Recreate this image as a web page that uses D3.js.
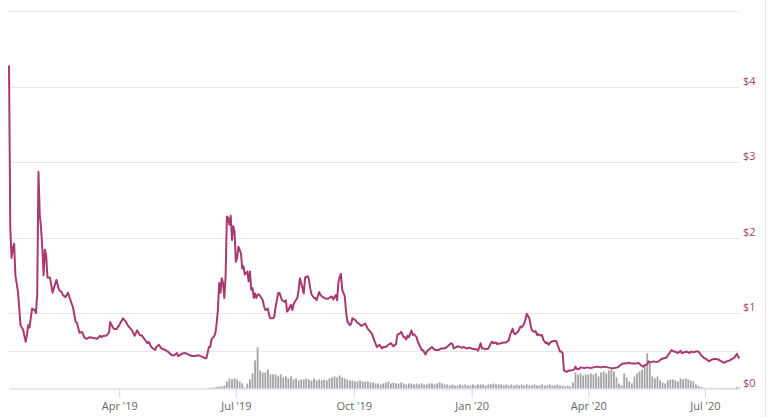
<!DOCTYPE html>
<html>
<head>
<meta charset="utf-8">
<script src="https://cdn.jsdelivr.net/npm/d3@7"></script>
<style>
  body { margin: 0; background: #fff; }
  #chart { width: 769px; height: 417px; }
  text { font-family: "Open Sans", "DejaVu Sans", sans-serif; }
</style>
</head>
<body>
<div id="chart"></div>
<script>
// day offsets counted from the first data day (5 Jan 2019)
const startDate = new Date(2019, 0, 5);

const priceDays = [
	0, 1, 2, 3, 4, 5, 7, 9, 11, 13, 14, 15, 16, 18, 20, 21, 22, 23, 24, 25, 26, 27, 28, 29, 30, 32, 34, 35, 37, 39,
	41, 42, 44, 46, 48, 50, 52, 53, 55, 57, 59, 61, 63, 66, 69, 71, 72, 74, 76, 78, 79, 81, 82, 84, 86, 87, 89, 91, 93, 96,
	98, 100, 102, 104, 105, 108, 109, 111, 114, 115, 117, 119, 122, 124, 127, 129, 131, 132, 135, 137, 139, 141, 143, 145, 148, 151, 153, 154, 156, 157,
	158, 160, 161, 162, 163, 164, 165, 166, 167, 168, 169, 170, 171, 172, 173, 174, 175, 176, 177, 178, 179, 181, 182, 183, 184, 186, 187, 188, 189, 190,
	191, 192, 193, 194, 195, 197, 198, 199, 200, 202, 203, 204, 206, 207, 208, 210, 211, 212, 213, 215, 216, 217, 218, 220, 221, 222, 223, 225, 226, 227,
	229, 230, 231, 233, 234, 235, 236, 238, 239, 240, 242, 243, 245, 247, 249, 252, 253, 255, 256, 257, 258, 259, 260, 262, 263, 264, 266, 267, 268, 270,
	272, 273, 275, 278, 280, 281, 283, 285, 287, 289, 291, 292, 294, 296, 298, 300, 302, 303, 305, 306, 308, 309, 310, 311, 312, 314, 315, 316, 318, 319,
	321, 322, 323, 325, 326, 327, 328, 330, 331, 333, 335, 337, 339, 341, 343, 345, 346, 347, 349, 351, 353, 355, 357, 359, 361, 363, 365, 366, 368, 369,
	371, 372, 374, 376, 377, 378, 380, 381, 384, 386, 388, 390, 391, 393, 394, 395, 397, 398, 399, 400, 402, 403, 404, 406, 407, 408, 410, 411, 412, 413,
	415, 416, 417, 419, 420, 421, 423, 425, 427, 428, 430, 431, 432, 433, 435, 437, 439, 441, 442, 443, 445, 446, 449, 451, 454, 456, 459, 462, 464, 467,
	470, 472, 475, 477, 479, 481, 484, 486, 489, 491, 493, 495, 496, 498, 499, 501, 503, 505, 507, 509, 511, 513, 515, 517, 519, 521, 522, 524, 525, 527,
	529, 531, 532, 534, 536, 538, 539, 540, 542, 544, 546, 548, 550, 552, 554, 556, 558, 560, 562, 564, 566, 568, 569, 570
];

const priceValues = [
	4.28, 2.13, 1.73, 1.86, 1.92, 1.50, 1.28, 0.84, 0.78, 0.62, 0.71, 0.84, 0.81, 1.06, 1.04, 1.00, 1.24, 2.87, 2.30, 2.13, 1.86, 1.50, 1.84, 1.77, 1.47, 1.47, 1.27, 1.33, 1.44, 1.31,
	1.28, 1.24, 1.21, 1.27, 1.17, 1.07, 0.88, 0.87, 0.74, 0.75, 0.67, 0.66, 0.68, 0.67, 0.66, 0.70, 0.68, 0.70, 0.70, 0.74, 0.88, 0.81, 0.79, 0.79, 0.84, 0.87, 0.93, 0.89, 0.83, 0.77,
	0.70, 0.77, 0.71, 0.70, 0.67, 0.60, 0.62, 0.55, 0.51, 0.55, 0.58, 0.53, 0.51, 0.49, 0.44, 0.44, 0.47, 0.43, 0.46, 0.47, 0.46, 0.44, 0.43, 0.43, 0.44, 0.42, 0.40, 0.40, 0.55, 0.55,
	0.65, 0.69, 0.73, 0.86, 1.04, 1.40, 1.27, 1.46, 1.40, 1.20, 1.48, 2.28, 2.26, 2.17, 2.29, 1.97, 2.15, 2.08, 1.68, 1.73, 1.88, 1.79, 1.59, 1.62, 1.51, 1.55, 1.42, 1.55, 1.31, 1.33,
	1.20, 1.26, 1.20, 1.24, 1.25, 1.20, 1.17, 1.09, 1.04, 1.06, 0.97, 0.93, 0.93, 0.95, 1.08, 1.26, 1.27, 1.22, 1.17, 1.15, 1.17, 1.02, 1.04, 1.11, 1.04, 1.11, 1.15, 1.20, 1.31, 1.46,
	1.33, 1.26, 1.47, 1.49, 1.45, 1.33, 1.25, 1.20, 1.20, 1.17, 1.28, 1.24, 1.21, 1.19, 1.19, 1.22, 1.18, 1.24, 1.17, 1.40, 1.48, 1.52, 1.31, 1.22, 1.02, 0.89, 0.84, 0.86, 0.93, 0.91,
	0.87, 0.86, 0.83, 0.86, 0.79, 0.77, 0.73, 0.64, 0.55, 0.58, 0.53, 0.55, 0.55, 0.58, 0.60, 0.56, 0.59, 0.71, 0.73, 0.75, 0.68, 0.68, 0.65, 0.70, 0.68, 0.77, 0.71, 0.72, 0.68, 0.62,
	0.55, 0.51, 0.51, 0.45, 0.49, 0.51, 0.52, 0.55, 0.53, 0.51, 0.51, 0.53, 0.53, 0.54, 0.57, 0.60, 0.59, 0.53, 0.55, 0.56, 0.54, 0.55, 0.53, 0.54, 0.53, 0.52, 0.52, 0.50, 0.60, 0.53,
	0.53, 0.52, 0.53, 0.60, 0.62, 0.60, 0.61, 0.59, 0.60, 0.61, 0.61, 0.64, 0.71, 0.79, 0.73, 0.72, 0.75, 0.78, 0.82, 0.81, 0.86, 0.92, 0.99, 0.93, 0.84, 0.77, 0.75, 0.76, 0.71, 0.72,
	0.70, 0.71, 0.64, 0.60, 0.61, 0.58, 0.62, 0.63, 0.63, 0.58, 0.49, 0.49, 0.47, 0.24, 0.22, 0.24, 0.24, 0.25, 0.29, 0.26, 0.26, 0.28, 0.27, 0.28, 0.27, 0.28, 0.29, 0.28, 0.29, 0.28,
	0.27, 0.27, 0.28, 0.31, 0.33, 0.33, 0.34, 0.33, 0.33, 0.34, 0.31, 0.29, 0.31, 0.32, 0.36, 0.35, 0.36, 0.35, 0.36, 0.39, 0.40, 0.41, 0.46, 0.51, 0.49, 0.48, 0.47, 0.50, 0.47, 0.48,
	0.49, 0.47, 0.49, 0.48, 0.49, 0.49, 0.47, 0.44, 0.41, 0.39, 0.36, 0.38, 0.39, 0.39, 0.38, 0.36, 0.34, 0.36, 0.37, 0.39, 0.41, 0.46, 0.42, 0.40
];

// volume: one bar every 2 days, starting at day 154
const volumeFirstDay = 154;
const volumeStep = 2;
const volumeValues = [
	0.5, 0.5, 1, 1, 1.5, 2, 2, 3, 7, 10,
	9, 10, 9, 7, 5, 1, 5, 9, 15, 28,
	41, 18, 16, 16, 19, 14, 14, 14, 12, 14,
	11, 12, 10, 12, 9, 10, 8, 9, 9, 10,
	9, 8, 10, 8, 9, 8, 9, 8, 10, 11,
	12, 11, 13, 11, 10, 9, 8, 8, 7, 7,
	8, 7, 7, 7, 6, 6, 5, 5, 4, 5,
	6, 7, 5, 6, 5, 5, 6, 5, 4, 5,
	5, 4, 5, 4, 5, 4, 4, 5, 5, 4,
	5, 6, 5, 4, 4, 3, 4, 3, 3, 4,
	3, 4, 3, 3, 4, 3, 4, 4, 4, 3,
	4, 4, 5, 4, 4, 4, 3, 4, 3, 4,
	3, 4, 3, 4, 3, 4, 3, 3, 4, 3,
	3, 4, 3, 3, 4, 3, 3, 4, 3, 3,
	2, 3, 2, 6, 16, 14, 15, 13, 14, 14,
	15, 14, 15, 12, 16, 17, 15, 18, 19, 17,
	11, 5, 3, 15, 11, 7, 5, 12, 15, 17,
	19, 23, 35, 26, 12, 10, 12, 8, 6, 5,
	8, 9, 9, 8, 7, 10, 9, 10, 9, 8,
	7, 4, 2.5, 1.3, 0.8, 0.6, 0.5, 0.8, 0.6, 0.5,
	0.7, 0.5, 0.5, 0.6, 0.5, 0.5, 0.6, 1.3, 1
];

const priceTicks = [0, 1, 2, 3, 4];
const priceGrid = [1, 2, 3, 4, 5];

const width = 769;
const height = 417;
const plot = { left: 9, right: 739.5, top: 11.3, bottom: 388.5 };

const lineColor = '#a83a6f';

const dayToDate = d => d3.timeDay.offset(startDate, d);

const priceData = priceDays.map((d, i) => ({ date: dayToDate(d), value: priceValues[i] }));
const volumeData = volumeValues.map((v, i) => ({ date: dayToDate(volumeFirstDay + i * volumeStep), value: v }));

const x = d3.scaleTime()
	.domain([startDate, dayToDate(570)])
	.range([plot.left, plot.right]);

const y = d3.scaleLinear()
	.domain([0, 5])
	.range([plot.bottom, plot.top]);

// volume pane sits in the lowest price band
const yVol = d3.scaleLinear()
	.domain([0, 75])
	.range([plot.bottom, y(1)]);

const svg = d3.select('#chart')
	.append('svg')
	.attr('width', width)
	.attr('height', height);

// right border of the container
svg.append('line')
	.attr('x1', 765.5).attr('x2', 765.5)
	.attr('y1', 0).attr('y2', height)
	.attr('stroke', '#e3e3e3');

// grid
svg.append('g')
	.selectAll('line')
	.data(priceGrid)
	.join('line')
	.attr('x1', plot.left)
	.attr('x2', plot.right)
	.attr('y1', d => Math.round(y(d)) + 0.5)
	.attr('y2', d => Math.round(y(d)) + 0.5)
	.attr('stroke', '#e6e6e6');

svg.append('g')
	.selectAll('line')
	.data([37.5, 75])
	.join('line')
	.attr('x1', plot.left)
	.attr('x2', plot.right)
	.attr('y1', d => Math.round(yVol(d)) + 0.5)
	.attr('y2', d => Math.round(yVol(d)) + 0.5)
	.attr('stroke', '#e6e6e6');

// volume bars
svg.append('g')
	.attr('fill', '#a5a5a5')
	.selectAll('rect')
	.data(volumeData)
	.join('rect')
	.attr('x', d => x(d.date) - 0.9)
	.attr('width', 1.8)
	.attr('y', d => yVol(d.value))
	.attr('height', d => yVol(0) - yVol(d.value));

// price line
const line = d3.line()
	.x(d => x(d.date))
	.y(d => y(d.value));

svg.append('path')
	.datum(priceData)
	.attr('fill', 'none')
	.attr('stroke', lineColor)
	.attr('stroke-width', 2)
	.attr('stroke-linejoin', 'round')
	.attr('d', line);

// x axis
const xAxis = svg.append('g')
	.attr('transform', `translate(0,${plot.bottom})`)
	.call(d3.axisBottom(x)
		.ticks(d3.timeMonth.every(3))
		.tickFormat(d3.timeFormat("%b '%y"))
		.tickSize(9)
		.tickSizeOuter(0)
		.tickPadding(5));

xAxis.select('.domain').attr('stroke', '#ccd6eb');
xAxis.selectAll('.tick line').attr('stroke', '#ccd6eb');
xAxis.selectAll('.tick text')
	.attr('fill', '#666')
	.style('font-size', '11px');

// price labels on the right
svg.append('g')
	.selectAll('text')
	.data(priceTicks)
	.join('text')
	.attr('x', 743)
	.attr('y', d => y(d) - 2)
	.attr('fill', '#a2476f')
	.style('font-size', '11px')
	.text(d => '$' + d);
</script>
</body>
</html>
